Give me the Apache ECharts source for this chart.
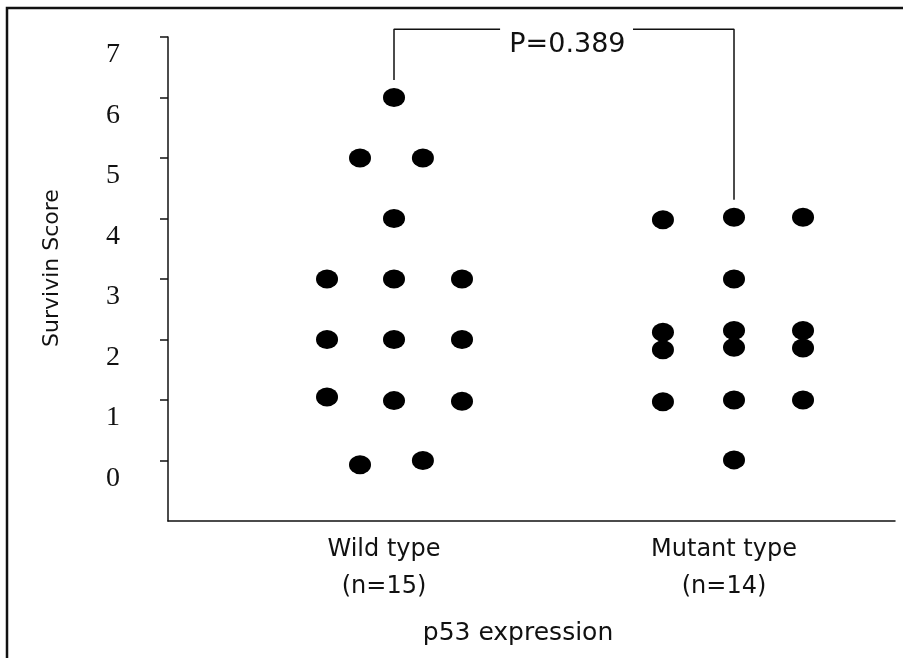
<!DOCTYPE html>
<html>
<head>
<meta charset="utf-8">
<script src="https://cdn.jsdelivr.net/npm/echarts@6/dist/echarts.min.js"></script>
<style>
  html, body { margin: 0; padding: 0; background: #fff; }
  #main { width: 903px; height: 658px; }
</style>
</head>
<body>
<div id="main"></div>
<script>
// groups on the x axis (group centre = 1, 2)
const categories = ["Wild type\n(n=15)", "Mutant type\n(n=14)"];
const groupPos = [1, 2];
const yTicks = [0, 1, 2, 3, 4, 5, 6, 7];

// wild type dots: horizontal spread inside the group, survivin score
const wildOffsets = [0, -0.1, 0.085, 0, -0.197, 0, 0.2, -0.197, 0, 0.2, -0.197, 0, 0.2, -0.1, 0.085];
const wildScores = [6, 5, 5, 4, 3, 3, 3, 2, 2, 2, 1.05, 0.99, 0.98, -0.07, 0];

// mutant type dots
const mutantOffsets = [-0.209, 0, 0.203, 0, -0.209, -0.209, 0, 0, 0.203, 0.203, -0.209, 0, 0.203, 0];
const mutantScores = [3.98, 4.02, 4.02, 3, 2.12, 1.83, 2.15, 1.87, 2.15, 1.86, 0.97, 1, 1, 0.01];

// significance bracket
const pText = "P=0.389";
const bracketLeft = [[1, 6.29], [1, 7.13], [1.312, 7.13]];
const bracketRight = [[1.703, 7.13], [2, 7.13], [2, 4.31]];
const pLabelPos = [1.51, 6.86];

const toPoints = (g, offs, ys) => ys.map((y, i) => [groupPos[g] + offs[i], y]);

const chart = echarts.init(document.getElementById("main"));
const sans = "DejaVu Sans";

const lineSeries = (data) => ({
  type: "line",
  data: data,
  symbol: "none",
  clip: false,
  silent: true,
  lineStyle: { color: "#111", width: 1.5 },
});

let option = {
  backgroundColor: "#fff",
  animation: false,
  grid: { left: 168, right: 8, top: 37, bottom: 137 },
  xAxis: {
    type: "value",
    min: 0.3353,
    max: 2.4735,
    splitLine: { show: false },
    axisLine: { show: true, onZero: false, lineStyle: { color: "#111", width: 1.5 } },
    axisTick: { show: false },
    axisLabel: {
      customValues: groupPos,
      formatter: (v) => categories[groupPos.indexOf(v)] || "",
      fontFamily: sans,
      fontSize: 24,
      lineHeight: 37,
      color: "#111",
      margin: 10,
      padding: [0, 20, 0, 0],
    },
    name: "p53 expression",
    nameLocation: "middle",
    nameGap: 100,
    nameTextStyle: { fontFamily: sans, fontSize: 25, color: "#111", padding: [0, 27, 0, 0] },
  },
  yAxis: {
    type: "value",
    min: -1,
    max: 7,
    interval: 1,
    splitLine: { show: false },
    axisLine: { show: true, onZero: false, lineStyle: { color: "#111", width: 1.5 } },
    axisTick: { show: true, customValues: yTicks, length: 8, lineStyle: { color: "#111", width: 1.5 } },
    axisLabel: {
      customValues: yTicks,
      fontFamily: "Liberation Serif",
      fontSize: 28,
      lineHeight: 36,
      color: "#111",
      margin: 48,
      verticalAlign: "top",
    },
    name: "Survivin Score",
    nameLocation: "middle",
    nameRotate: 90,
    nameGap: 105,
    nameTextStyle: { fontFamily: sans, fontSize: 22, color: "#111", padding: [0, 0, 0, 22] },
  },
  graphic: [
    {
      type: "polyline",
      shape: { points: [[7, 658], [7, 8], [903, 8]] },
      style: { stroke: "#111", lineWidth: 2.5, fill: null },
      silent: true,
    },
  ],
  series: [
    {
      type: "scatter",
      data: toPoints(0, wildOffsets, wildScores),
      symbolSize: [22, 19],
      itemStyle: { color: "#000", opacity: 1 },
    },
    {
      type: "scatter",
      data: toPoints(1, mutantOffsets, mutantScores),
      symbolSize: [22, 19],
      itemStyle: { color: "#000", opacity: 1 },
    },
    lineSeries(bracketLeft),
    lineSeries(bracketRight),
    {
      type: "scatter",
      data: [pLabelPos],
      symbolSize: 0,
      clip: false,
      silent: true,
      itemStyle: { opacity: 1 },
      label: {
        show: true,
        position: "inside",
        formatter: pText,
        fontFamily: sans,
        fontSize: 27,
        color: "#111",
      },
    },
  ],
};
chart.setOption(option);
</script>
</body>
</html>
